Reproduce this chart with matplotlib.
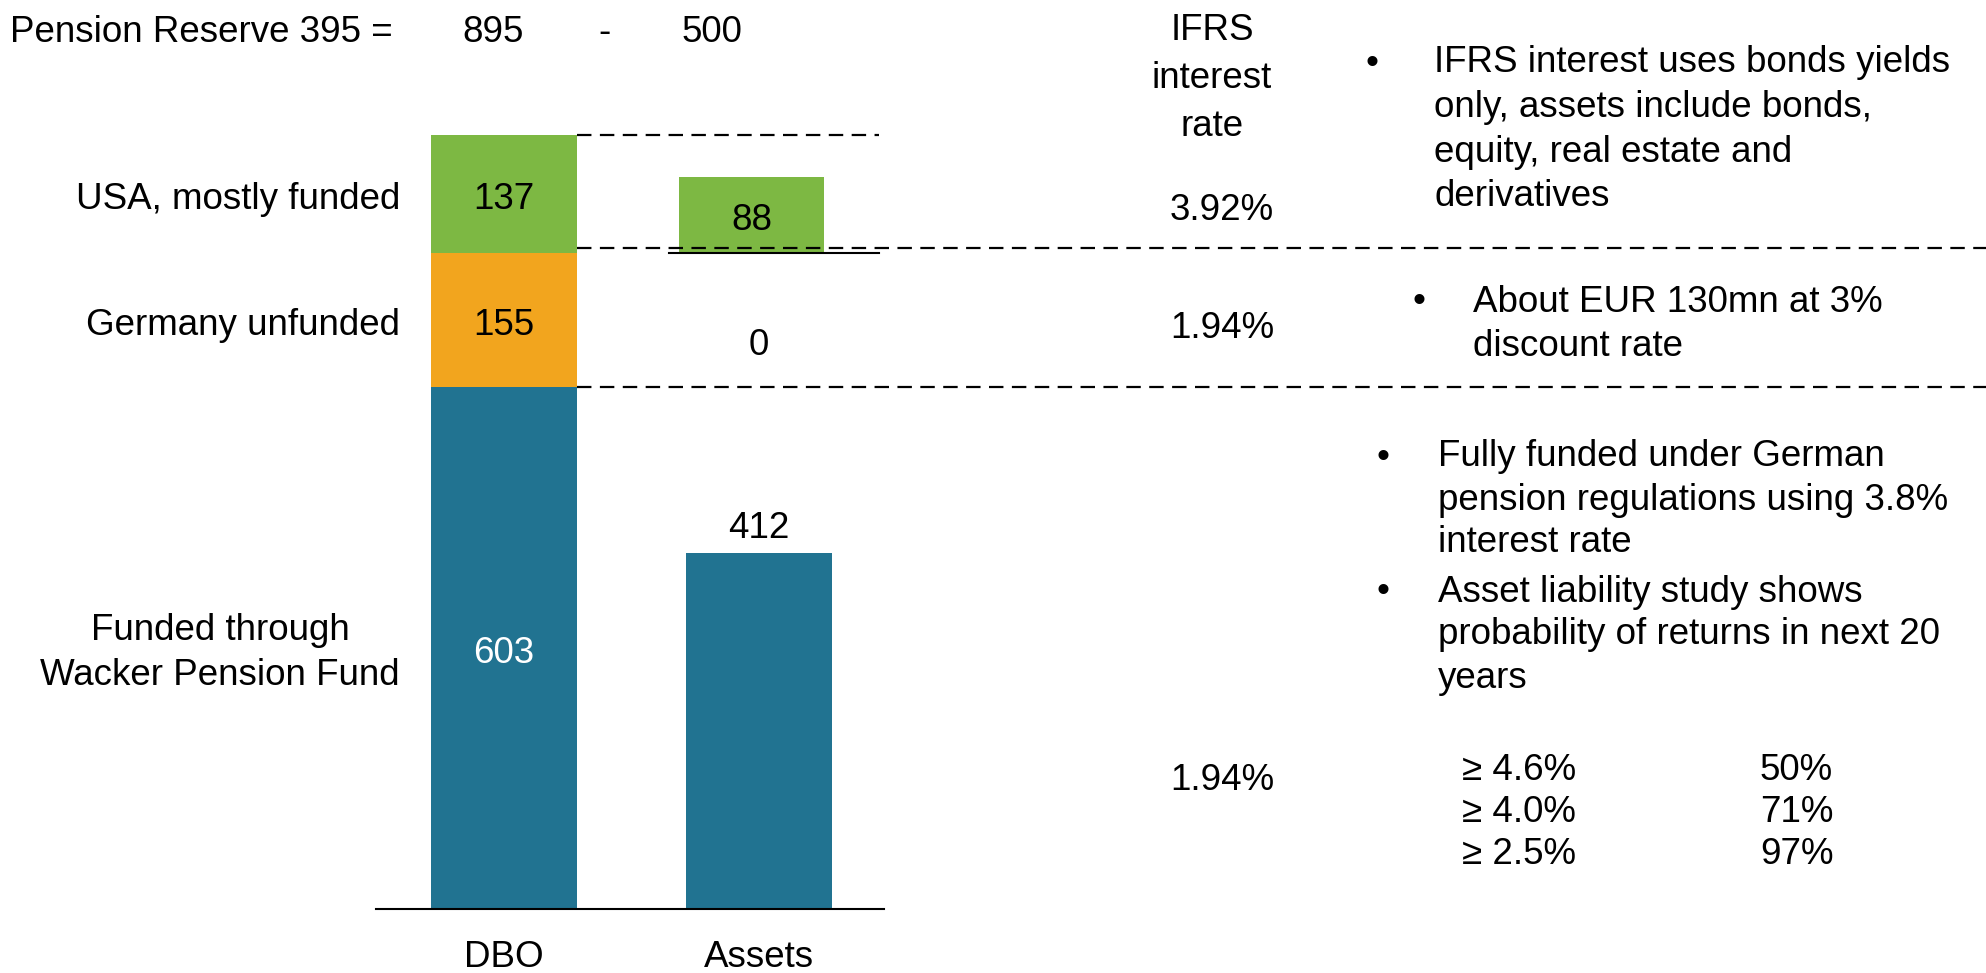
import matplotlib
matplotlib.use('Agg')
import matplotlib.pyplot as plt
import matplotlib.transforms as mtransforms
import numpy as np

plt.rcParams['font.family'] = ['Liberation Sans', 'DejaVu Sans']

# segments from bottom to top
segments = ['Funded through\nWacker Pension Fund', 'Germany unfunded', 'USA, mostly funded']
dbo = [603, 155, 137]
assets = [412, 0, 88]
ifrs_rate = ['1.94%', '1.94%', '3.92%']
colors = ['#217391', '#F2A51E', '#7DB843']
bars = ['DBO', 'Assets']

note_usa = ['IFRS interest uses bonds yields', 'only, assets include bonds,',
            'equity, real estate and', 'derivatives']
note_germany = ['About EUR 130mn at 3%', 'discount rate']
note_fund_1 = ['Fully funded under German', 'pension regulations using 3.8%', 'interest rate']
note_fund_2 = ['Asset liability study shows', 'probability of returns in next 20', 'years']
return_thresholds = ['\u2265 4.6%', '\u2265 4.0%', '\u2265 2.5%']
return_probs = ['50%', '71%', '97%']

W, H = 1986, 973
FS = 26.5
DY = 5  # text sits a little lower than its box centre
fig = plt.figure(figsize=(W / 100, H / 100), dpi=100)
ax = fig.add_axes([376 / W, (H - 909) / H, (884 - 376) / W, 865 / H])
ax.set_ylim(0, 1000)
ax.set_xlim(-0.502, 1.49)
width = 0.57
tdata = mtransforms.offset_copy(ax.transData, fig, y=-DY, units='dots')

bottoms = np.concatenate([[0], np.cumsum(dbo)[:-1]])
ax.bar(0, dbo, width, bottom=bottoms, color=colors, zorder=2)

# assets: fund bar from zero, USA bar floats at the level of the DBO USA segment
ax.bar(1, assets[0], width, color=colors[0], zorder=2)
ax.bar(1 - 0.03, assets[2], width, bottom=bottoms[2], color=colors[2], zorder=2)

for i, v in enumerate(dbo):
    ax.text(0, bottoms[i] + v / 2, str(v), ha='center', va='center', fontsize=FS,
            color='white' if i == 0 else 'black', transform=tdata)
ax.annotate(str(assets[0]), (1, assets[0]), xytext=(0, 5), textcoords='offset points',
            ha='center', va='bottom', fontsize=FS)
ax.text(1, bottoms[1] + dbo[1] * 0.35, str(assets[1]), ha='center', va='center', fontsize=FS,
        transform=tdata)
ax.text(1 - 0.03, bottoms[2] + assets[2] / 2, str(assets[2]), ha='center', va='center',
        fontsize=FS, transform=tdata)

# reference lines
xr = ax.get_xlim()[1]
dash = (0, (6.5, 3.8))
ax.plot([width / 2, xr - 0.02], [sum(dbo)] * 2, color='black', lw=1.6, ls=dash, clip_on=False)
ax.plot([width / 2, 10], [bottoms[2] + 6] * 2, color='black', lw=1.6, ls=dash, clip_on=False)
ax.plot([width / 2, 10], [bottoms[1]] * 2, color='black', lw=1.6, ls=dash, clip_on=False)
ax.plot([1 - width / 2 - 0.07, xr - 0.02], [bottoms[2]] * 2, color='black', lw=1.5,
        clip_on=False)

for s in ['top', 'right', 'left']:
    ax.spines[s].set_visible(False)
ax.spines['bottom'].set_linewidth(1.5)
ax.set_yticks([])
ax.set_xticks([0, 1])
ax.set_xticklabels(bars, fontsize=FS)
ax.tick_params(axis='x', length=0, pad=22)

# segment names on the left
trans = mtransforms.offset_copy(
    mtransforms.blended_transform_factory(fig.transFigure, ax.transData),
    fig, y=-DY, units='dots')
for i, name in enumerate(segments):
    ax.text(400 / W, bottoms[i] + dbo[i] / 2, name, transform=trans, ha='right',
            va='center', multialignment='center', fontsize=FS, linespacing=1.35)


def put(x, y, s, **kw):
    fig.text(x / W, 1 - (y + DY) / H, s, va='center', fontsize=FS, **kw)


# header
total_dbo = sum(dbo)
total_assets = sum(assets)
put(10, 28, f'Pension Reserve {total_dbo - total_assets} =')
put(493, 28, str(total_dbo), ha='center')
put(604, 28, '-', ha='center')
put(712, 28, str(total_assets), ha='center')

# IFRS column
for j, s in enumerate(['IFRS', 'interest', 'rate']):
    put(1212, 25 + 48 * j, s, ha='center')
rate_y = [775, 323, 206]
for r, y in zip(ifrs_rate, rate_y):
    put(1222, y, r, ha='center')


def bullet(xb, xt, y0, lines, step=44):
    put(xb, y0, '\u2022', ha='center')
    for k, line in enumerate(lines):
        put(xt, y0 + step * k, line)


bullet(1372, 1434, 58, note_usa, 44.5)
bullet(1419, 1473, 297, note_germany, 44)
bullet(1383, 1438, 452, note_fund_1, 43)
bullet(1383, 1438, 587, note_fund_2, 43)

for k, (t, p) in enumerate(zip(return_thresholds, return_probs)):
    put(1462, 765 + 42 * k, t)
    put(1760, 765 + 42 * k, p)

fig.savefig('out.png', dpi=100)
